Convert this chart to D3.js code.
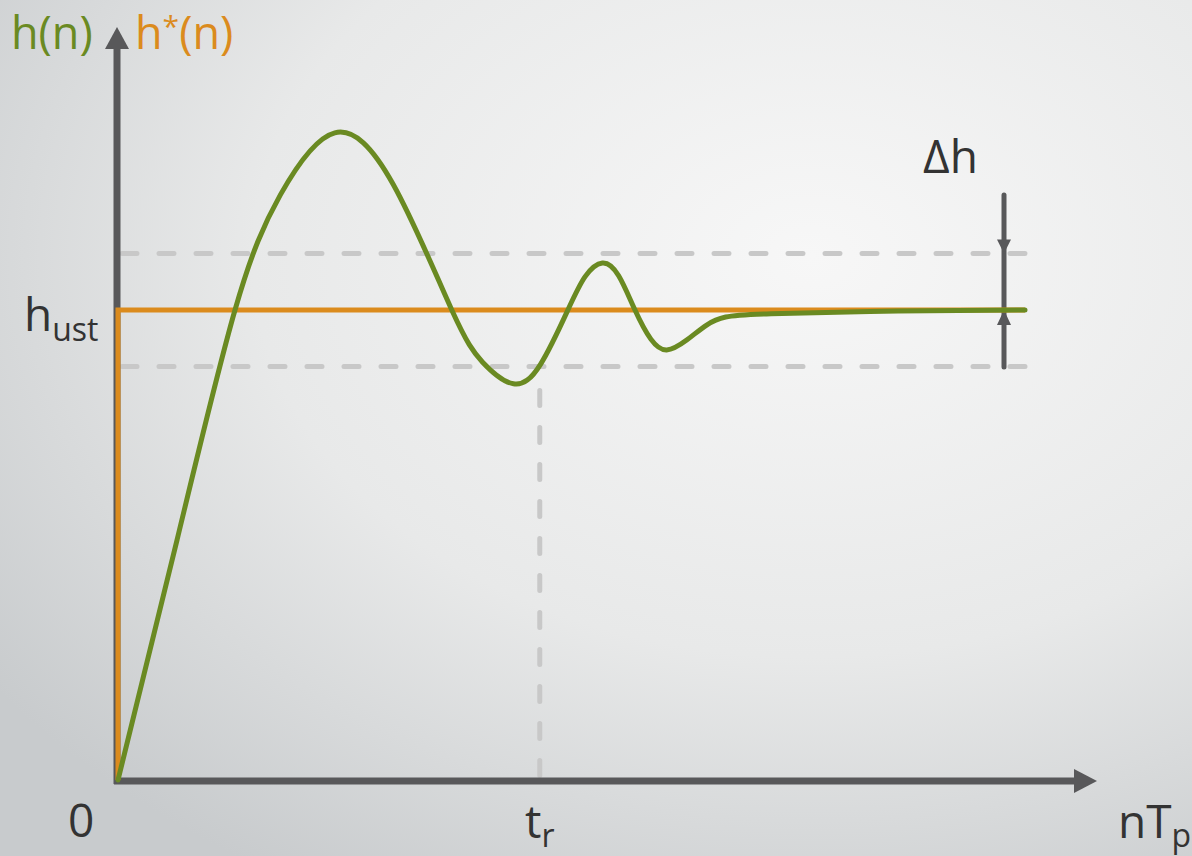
<!DOCTYPE html>
<html>
<head>
<meta charset="utf-8">
<script src="https://cdn.jsdelivr.net/npm/d3@7"></script>
<style>
  html, body { margin: 0; padding: 0; }
  svg { display: block; font-family: 'Open Sans', 'Noto Sans', sans-serif; }
</style>
</head>
<body>
<svg id="chart" width="1192" height="856"></svg>
<script>
// step response h(n), sampled in time units (0..100) and relative to h_ust = 1
const timeSteps = [0, 6.5, 12.9, 17.9, 23.9, 30.35, 36.8, 40.2, 43.6, 46.6, 49.6, 51.5, 53.4, 55.2, 57.0, 58.75, 60.5, 62.7, 64.9, 67.0, 72, 86, 100];
const responseValues = [0, 0.51, 1.0, 1.245, 1.377, 1.267, 1.0, 0.889, 0.843, 0.885, 1.0, 1.071, 1.1, 1.073, 1.0, 0.938, 0.915, 0.936, 0.968, 0.985, 0.992, 0.998, 1.0];
// ideal response h*(n): step to h_ust
const stepTimes = [0, 0, 100];
const stepValues = [0, 1, 1];
const hUst = 1;
const tolerance = 0.12;   // band +- delta h
const riseTime = 46.5;    // t_r

const svg = d3.select('#chart');
const width = 1192, height = 856;

const defs = svg.append('defs');
const grad = defs.append('radialGradient').attr('id', 'bg')
  .attr('cx', '68%').attr('cy', '30%').attr('r', '85%');
grad.append('stop').attr('offset', '0%').attr('stop-color', '#f7f7f7');
grad.append('stop').attr('offset', '55%').attr('stop-color', '#e8e9e9');
grad.append('stop').attr('offset', '100%').attr('stop-color', '#c8cbcd');
svg.append('rect').attr('width', width).attr('height', height).attr('fill', 'url(#bg)');

const x = d3.scaleLinear().domain([0, 100]).range([118, 1025]);
const y = d3.scaleLinear().domain([0, 1]).range([780, 310]);

const axisColor = '#58585a';
const dashColor = '#c8c8c8';
const green = '#6a8a22';
const orange = '#db8b1d';
const textColor = '#333333';

// tolerance band
svg.selectAll('line.band').data([hUst + tolerance, hUst - tolerance]).join('line')
  .classed('band', true)
  .attr('x1', x(0) + 4).attr('x2', x(100))
  .attr('y1', (d) => y(d)).attr('y2', (d) => y(d))
  .attr('stroke', dashColor).attr('stroke-width', 5)
  .attr('stroke-linecap', 'round').attr('stroke-dasharray', '15 22');

// vertical dashed at t_r
svg.append('line')
  .attr('x1', x(riseTime)).attr('x2', x(riseTime))
  .attr('y1', y(hUst - tolerance) + 24).attr('y2', 776)
  .attr('stroke', dashColor).attr('stroke-width', 5)
  .attr('stroke-linecap', 'round').attr('stroke-dasharray', '15 22');

// axes
svg.append('line').attr('x1', x(0) - 1).attr('x2', x(0) - 1).attr('y1', 784).attr('y2', 46)
  .attr('stroke', axisColor).attr('stroke-width', 7);
svg.append('path').attr('d', `M${x(0) - 1},27 L${x(0) - 13},49 L${x(0) + 11},49 Z`).attr('fill', axisColor);
svg.append('line').attr('x1', x(0) - 4).attr('x2', 1078).attr('y1', 781).attr('y2', 781)
  .attr('stroke', axisColor).attr('stroke-width', 7);
svg.append('path').attr('d', 'M1097,781 L1074,769 L1074,793 Z').attr('fill', axisColor);

// delta h indicator
const dx = 1004;
svg.append('line').attr('x1', dx).attr('x2', dx).attr('y1', 195).attr('y2', 367)
  .attr('stroke', axisColor).attr('stroke-width', 5).attr('stroke-linecap', 'round');
svg.append('path').attr('d', `M${dx},${y(hUst + tolerance)} L${dx - 7},${y(hUst + tolerance) - 14} L${dx + 7},${y(hUst + tolerance) - 14} Z`).attr('fill', axisColor);
svg.append('path').attr('d', `M${dx},${y(hUst)} L${dx - 7},${y(hUst) + 15} L${dx + 7},${y(hUst) + 15} Z`).attr('fill', axisColor);

// ideal step
const stepLine = d3.line().x((d) => x(d[0])).y((d) => y(d[1]));
svg.append('path').datum(d3.zip(stepTimes, stepValues))
  .attr('d', stepLine).attr('fill', 'none')
  .attr('stroke', orange).attr('stroke-width', 5).attr('stroke-linejoin', 'miter');

// response
const respLine = d3.line().x((d) => x(d[0])).y((d) => y(d[1])).curve(d3.curveNatural);
svg.append('path').datum(d3.zip(timeSteps, responseValues))
  .attr('d', respLine).attr('fill', 'none')
  .attr('stroke', green).attr('stroke-width', 5).attr('stroke-linecap', 'round');

// labels
const label = (tx, ty, parts, color) => {
  const t = svg.append('text').attr('x', tx).attr('y', ty).attr('fill', color).style('font-size', '46px');
  parts.forEach((p) => {
    const s = t.append('tspan').text(p.text);
    if (p.size) s.style('font-size', p.size);
    if (p.dy) s.attr('dy', p.dy);
  });
  return t;
};

label(11, 49, [{ text: 'h(n)' }], green).style('font-size', '45px');
label(135, 49, [{ text: 'h' }, { text: '*', size: '30px', dy: -12 }, { text: '(n)', dy: 12 }], orange).style('font-size', '45px');
label(24, 331, [{ text: 'h' }, { text: 'ust', size: '32px', dy: 10 }], textColor);
label(923, 173, [{ text: 'Δh' }], textColor);
label(68, 837, [{ text: '0' }], textColor);
label(525, 838, [{ text: 't' }, { text: 'r', size: '32px', dy: 9 }], textColor);
label(1118, 838, [{ text: 'nT' }, { text: 'p', size: '32px', dy: 9 }], textColor);
</script>
</body>
</html>
